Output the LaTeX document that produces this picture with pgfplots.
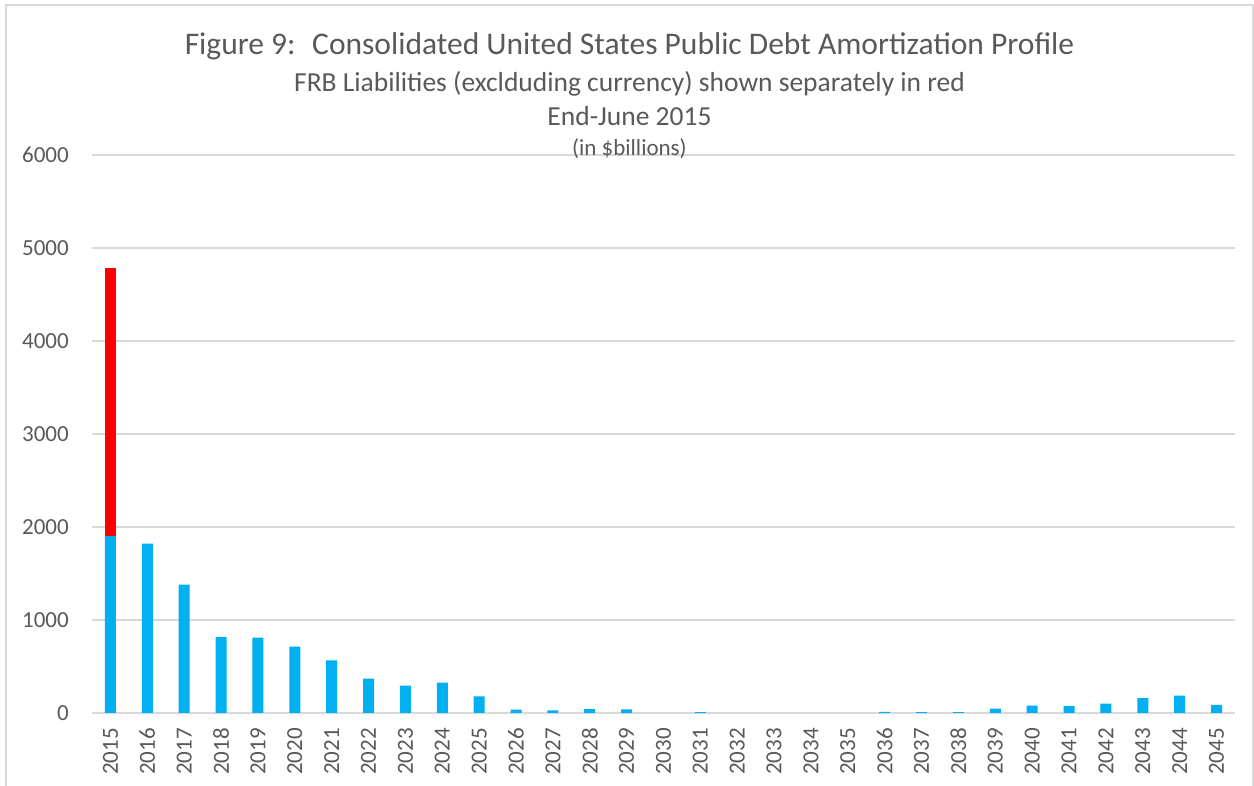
\documentclass[border=0pt]{standalone}
\usepackage{pgfplots}
\pgfplotsset{compat=1.18}
\usepackage{fontspec}
\setmainfont{Carlito}
\definecolor{xlblue}{RGB}{0,176,240}
\definecolor{xlred}{RGB}{255,0,0}
\definecolor{xlgrid}{RGB}{217,217,217}
\definecolor{xltext}{RGB}{89,89,89}
\begin{document}
\begin{tikzpicture}
\begin{axis}[
  at={(0pt,0pt)}, anchor=south west,
  scale only axis,
  width=1143pt, height=558pt,
  xmin=-0.5, xmax=30.5,
  ymin=0, ymax=6000,
  ybar stacked,
  bar width=11pt,
  xtick={0,...,30},
  xticklabels={2015,2016,2017,2018,2019,2020,2021,2022,2023,2024,2025,2026,2027,2028,2029,2030,2031,2032,2033,2034,2035,2036,2037,2038,2039,2040,2041,2042,2043,2044,2045},
  ytick={0,1000,...,6000},
  ymajorgrids,
  grid style={draw=xlgrid, line width=1.6pt},
  axis line style={draw=none},
  major tick length=0pt,
  tick label style={font=\fontsize{23}{27}\selectfont, text=xltext},
  xticklabel style={rotate=90, anchor=east, inner xsep=15pt, inner ysep=0pt},
  yticklabel style={anchor=east, inner xsep=0pt, xshift=-23pt},
  /pgf/number format/1000 sep={},
  /pgf/number format/assume math mode=true,
  clip=false,
]
\addplot[fill=xlblue, draw=none] coordinates {
(0,1903) (1,1820) (2,1380) (3,817) (4,810) (5,713) (6,567) (7,369) (8,294) (9,326)
(10,179) (11,35) (12,27) (13,41) (14,38) (15,0) (16,10) (17,0) (18,0) (19,0)
(20,0) (21,12) (22,10) (23,10) (24,46) (25,79) (26,75) (27,100) (28,161) (29,186) (30,86)};
\addplot[fill=xlred, draw=none] coordinates {(0,2887)};
\end{axis}
\draw[xlgrid, line width=1.6pt] (-86pt,-80pt) -- (-86pt,708pt) -- (1161pt,708pt) -- (1161pt,-80pt);
\node[text=xltext, font=\fontsize{31.5}{36}\selectfont] at (537.5pt,667pt) {Figure 9:~ Consolidated United States Public Debt Amortization Profile};
\node[text=xltext, font=\fontsize{27.5}{32}\selectfont] at (537.5pt,629pt) {FRB Liabilities (exclduding currency) shown separately in red};
\node[text=xltext, font=\fontsize{27.5}{32}\selectfont] at (537.5pt,597pt) {End-June 2015};
\node[text=xltext, font=\fontsize{23}{27}\selectfont] at (537.5pt,564pt) {(in \$billions)};
\pgfresetboundingbox
\path[use as bounding box] (-92pt,-73pt) rectangle (1162pt,713pt);
\end{tikzpicture}
\end{document}
